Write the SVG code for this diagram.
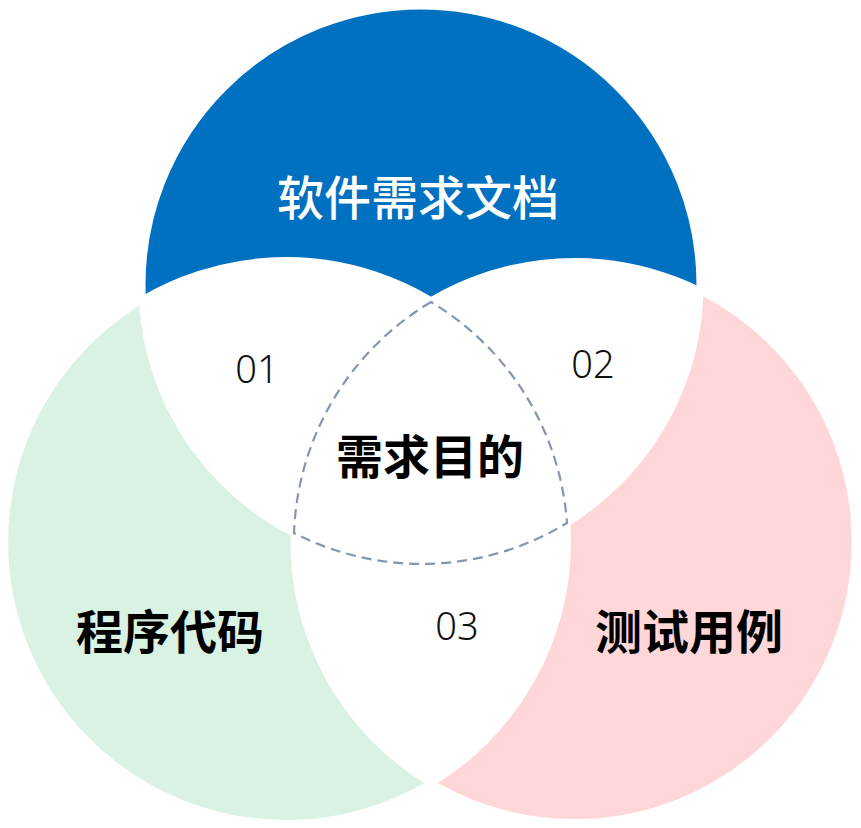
<svg xmlns="http://www.w3.org/2000/svg" width="861" height="828" viewBox="0 0 861 828">
  <style>
    .cjk { font-family: "Noto Sans CJK SC", "Noto Sans", sans-serif; font-size: 47px; text-anchor: middle; }
    .num { font-family: "Noto Sans", "Liberation Sans", sans-serif; font-size: 38px; font-weight: 300; fill: #111; text-anchor: middle; }
    .bold { font-weight: bold; fill: #000; }
    .mid { font-weight: 500; fill: #ffffff; }
    .lens { fill: #ffffff; }
    .edge { fill: none; stroke: #ffffff; stroke-width: 7; }
    .dash { fill: none; stroke: #8496B0; stroke-width: 2.2; stroke-dasharray: 10 6; }
  </style>
  <defs>
    <clipPath id="clipG"><circle cx="286" cy="542" r="281.4"/></clipPath>
    <clipPath id="clipP"><circle cx="574.6" cy="542" r="280.6"/></clipPath>
  </defs>
  <rect width="861" height="828" fill="#ffffff"/>

  <g id="circle-top">
    <circle cx="421" cy="285" r="279" fill="#0070C0"/>
    <text class="cjk mid" x="418" y="215">软件需求文档</text>
  </g>
  <g id="circle-left">
    <circle cx="286" cy="542" r="281.4" fill="#DAF2E4"/>
  </g>
  <g id="circle-right">
    <circle cx="574.6" cy="542" r="280.6" fill="#FFD7D8"/>
  </g>

  <g id="overlaps">
    <circle class="lens" cx="421" cy="285" r="279" clip-path="url(#clipG)"/>
    <circle class="lens" cx="421" cy="285" r="279" clip-path="url(#clipP)"/>
    <circle class="lens" cx="286" cy="542" r="281.4" clip-path="url(#clipP)"/>
    <circle class="edge" cx="421" cy="285" r="279"/>
    <circle class="edge" cx="286" cy="542" r="281.4"/>
    <circle class="edge" cx="574.6" cy="542" r="280.6"/>
  </g>

  <g id="connectors"></g>

  <g id="overlap-01">
    <text class="num" x="257" y="383">01</text>
  </g>
  <g id="overlap-02">
    <text class="num" x="593" y="378">02</text>
  </g>
  <g id="overlap-03">
    <text class="num" x="457" y="640">03</text>
  </g>

  <g id="center">
    <path class="dash" d="M431,302 A280.6,280.6 0 0 0 294,533 A279,279 0 0 0 567,523 A281.4,281.4 0 0 0 431,302 Z"/>
    <text class="cjk bold" x="430" y="474">需求目的</text>
  </g>

  <g id="label-left">
    <text class="cjk bold" x="170" y="649">程序代码</text>
  </g>
  <g id="label-right">
    <text class="cjk bold" x="689" y="649">测试用例</text>
  </g>
</svg>
